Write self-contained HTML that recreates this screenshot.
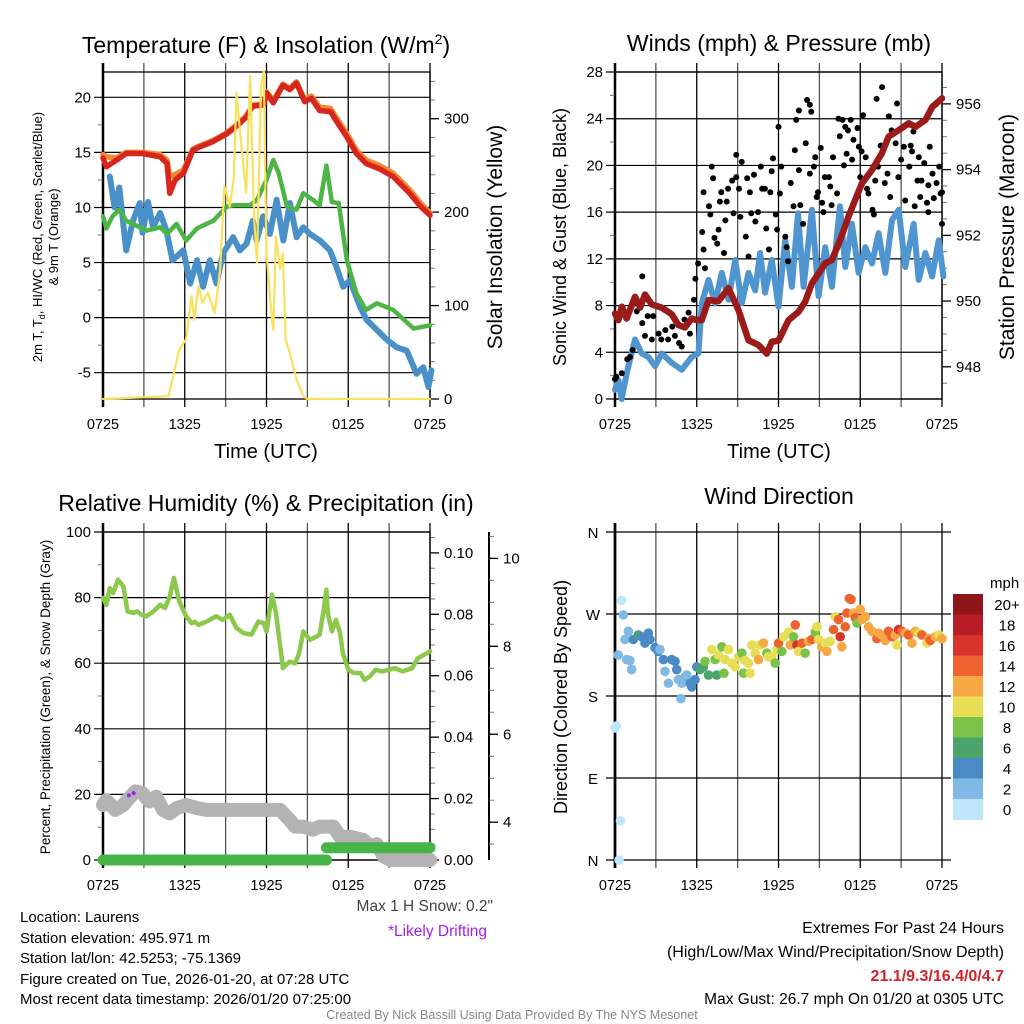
<!DOCTYPE html>
<html><head><meta charset="utf-8">
<style>
html,body{margin:0;padding:0;background:#fff;}
svg{display:block;font-family:"Liberation Sans",Arial,sans-serif;}
</style></head>
<body>
<svg id="svg" width="1024" height="1024" viewBox="0 0 1024 1024" xmlns="http://www.w3.org/2000/svg">
<text x="266" y="53" font-size="23" text-anchor="middle">Temperature (F) &amp; Insolation (W/m<tspan dy="-9" font-size="14">2</tspan><tspan dy="9">)</tspan></text>
<text x="779" y="51" font-size="23" text-anchor="middle">Winds (mph) &amp; Pressure (mb)</text>
<text x="266" y="511" font-size="23" text-anchor="middle">Relative Humidity (%) &amp; Precipitation (in)</text>
<text x="779" y="504" font-size="23" text-anchor="middle">Wind Direction</text>

<text transform="translate(42,237) rotate(-90)" font-size="13" text-anchor="middle">2m T, T<tspan font-size="9" dy="3">d</tspan><tspan dy="-3">, HI/WC (Red, Green, Scarlet/Blue)</tspan></text>
<text transform="translate(58,237) rotate(-90)" font-size="13" text-anchor="middle">&amp; 9m T (Orange)</text>
<text transform="translate(502,237) rotate(-90)" font-size="21" text-anchor="middle">Solar Insolation (Yellow)</text>
<text x="266" y="458" font-size="20" text-anchor="middle">Time (UTC)</text>
<text transform="translate(566,237) rotate(-90)" font-size="18" text-anchor="middle">Sonic Wind &amp; Gust (Blue, Black)</text>
<text transform="translate(1014,237) rotate(-90)" font-size="21" text-anchor="middle">Station Pressure (Maroon)</text>
<text x="779" y="458" font-size="20" text-anchor="middle">Time (UTC)</text>
<text transform="translate(50,697) rotate(-90)" font-size="13.5" text-anchor="middle">Percent, Precipitation (Green), &amp; Snow Depth (Gray)</text>
<text transform="translate(567,697) rotate(-90)" font-size="18" text-anchor="middle">Direction (Colored By Speed)</text>

<g font-size="15">
<text x="20" y="922">Location: Laurens</text>
<text x="20" y="943">Station elevation: 495.971 m</text>
<text x="20" y="963">Station lat/lon: 42.5253; -75.1369</text>
<text x="20" y="984">Figure created on Tue, 2026-01-20, at 07:28 UTC</text>
<text x="20" y="1004">Most recent data timestamp: 2026/01/20 07:25:00</text>
</g>
<text x="493" y="911" font-size="15.5" fill="#444" text-anchor="end">Max 1 H Snow: 0.2"</text>
<text x="487" y="936" font-size="15.5" fill="#a020f0" text-anchor="end">*Likely Drifting</text>
<g font-size="16" text-anchor="end">
<text x="1004" y="933">Extremes For Past 24 Hours</text>
<text x="1004" y="957">(High/Low/Max Wind/Precipitation/Snow Depth)</text>
<text x="1004" y="981" fill="#d2232a" font-weight="bold">21.1/9.3/16.4/0/4.7</text>
<text x="1004" y="1004" font-size="15.5">Max Gust: 26.7 mph On 01/20 at 0305 UTC</text>
</g>
<text x="512" y="1019" font-size="12.5" fill="#888" text-anchor="middle">Created By Nick Bassill Using Data Provided By The NYS Mesonet</text>
</svg>
<script>
// ---------- data ----------
const xTickLabels = ['0725','1325','1925','0125','0725'];
const tempH = [0,0.25,1,1.7,2.9,4.2,4.7,4.9,5.3,5.9,6.6,7.1,8.1,9.1,10,10.5,11,11.8,12,12.5,13.2,13.7,14.2,14.8,15.3,15.9,16.7,17.1,17.9,18.6,19.3,20.3,21.3,22.5,23.3,24];
const tempRed = [14.5,13.7,14.3,14.9,14.9,14.6,14,11.3,12.5,13.1,15.2,15.5,16,16.7,17.6,18.2,19.2,19.3,20.4,19.5,21.1,20.7,21.3,19.6,19.9,18.8,18.7,17.9,16.4,14.9,14.0,13.5,12.8,11.3,10.1,9.3];
const tempOrange = [14.8,14.6,14.5,15.0,15.0,14.8,14.3,12.8,13.0,13.4,15.3,15.6,16.1,16.8,17.7,18.3,19.3,19.4,20.5,19.7,21.2,20.8,21.4,19.8,20.1,19.1,19.0,18.2,16.7,15.2,14.3,13.8,13.1,11.6,10.4,9.5];
const dewH = [0,0.25,0.7,1.2,1.7,2.7,3.2,4.2,4.7,5.4,6.1,6.9,8.1,9.1,9.6,10.8,11.3,12,12.5,12.9,13.5,14.2,14.7,15.4,15.9,16.4,16.8,17.3,17.9,18.6,19.3,20.1,21.3,22.8,24];
const dewVals = [9.2,8.1,9.2,9.8,8.8,8.2,7.9,8.2,7.6,8.5,7,8.1,8.8,10.1,10.2,10.2,10.7,12.5,14.3,13.1,10.1,9.8,11.3,10.7,10.2,13.8,10.5,10.4,5.2,2.2,0.7,1.3,0.7,-1,-0.7];
const chillH = [0.5,0.85,1.2,1.7,2.2,2.7,2.9,3.3,3.67,4.2,4.65,5.1,5.9,6.4,6.9,7.35,7.84,8.33,8.8,9.55,10.04,10.53,11.0,11.27,11.76,12.25,12.74,13.23,13.72,14.21,14.7,15.18,15.92,16.65,17.14,17.63,18.12,18.86,19.35,20.08,20.82,21.55,22.29,23.02,23.51,23.88,24.1];
const chillVals = [12.8,10,11.8,6.1,8.8,10.4,7.7,10.5,8.2,9.5,7.9,5.2,6.1,3.1,5.2,2.8,5.2,3.1,5.8,7.3,6.1,6.7,8.8,7,9.2,7.6,10.7,7,10.4,7.3,8.2,7.6,7,6.1,4.6,2.8,3.4,1,-0.2,-1.1,-2,-2.7,-3,-5.1,-4.5,-6.3,-4.8];
const solarH = [0,4.8,5.1,5.6,6.1,6.5,6.7,7,7.3,7.7,8.2,8.6,8.9,9.3,9.6,9.8,10.2,10.5,10.8,11.1,11.3,11.6,11.8,12,12.4,12.5,12.7,13,13.2,13.4,13.7,14.2,14.7,15,24];
const solarVals = [0,3,21,53,64,110,85,121,103,114,92,139,228,206,235,328,264,221,346,192,146,335,351,156,85,74,174,139,156,64,49,21,3,0,0];

const presH = [0,0.25,0.5,0.85,1.47,1.84,2.2,2.69,3.43,4.16,4.65,5.14,5.63,6.0,6.37,6.86,7.59,8.33,9.06,9.8,10.53,11.14,11.51,12,12.74,13.47,13.96,14.45,14.94,15.43,15.92,16.53,17.14,17.63,18.12,18.86,19.59,20.08,20.82,21.55,22.04,22.78,23.27,24];
const presVals = [949.62,949.42,949.83,949.47,950.13,949.8,950.2,949.9,949.8,949.6,949.27,949.2,949.47,949.42,949.42,950.03,950.0,950.39,949.73,948.81,948.66,948.4,948.76,948.8,949.42,949.67,949.98,950.54,950.84,951.15,951.25,951.86,952.57,953.08,953.58,953.99,954.5,955,955.2,955.41,955.3,955.51,955.9,956.17];
const windH = [0,0.25,0.49,0.86,1.47,1.96,2.45,2.94,3.43,4.16,4.9,5.63,6.12,6.37,6.86,7.35,7.84,8.33,8.82,9.31,9.8,10.29,10.65,11.02,11.51,12,12.49,12.98,13.43,13.84,14.45,14.94,15.43,15.92,16.51,16.9,17.39,17.88,18.37,18.86,19.35,19.84,20.33,20.82,21.31,21.92,22.29,22.78,23.27,23.76,24.1];
const windVals = [0.8,1.6,0,2.2,5.1,3.9,3.6,2.8,3.9,3.1,2.5,3.6,3.9,8.2,10.2,8.2,10.8,8.5,11.9,8.2,10.8,9.3,12.5,9.1,11.9,7.9,13.6,9.6,15.9,9.6,16.2,8.8,13,9.6,16.5,11.3,15,10.8,13,11.6,14.2,10.8,15.3,16.2,11.3,15,10.2,12.5,10.5,13.6,10.5];
const gustH = [0,0.1,0.5,0.9,1.1,1.3,1.6,2.0,2.0,2.2,2.4,2.7,2.8,3.2,3.4,3.7,3.9,4.2,4.4,4.7,4.9,5.1,5.4,5.5,5.8,5.9,6.1,6.4,6.5,6.6,6.5,6.9,7.0,7.1,7.2,7.3,7.5,7.6,7.7,7.8,8.0,8.1,8.2,8.3,8.6,8.7,8.9,8.9,9.1,9.2,9.3,9.6,9.7,9.8,9.9,10.0,10.2,10.3,10.5,10.7,10.8,11,11.1,11.3,11.4,11.5,11.6,11.8,11.9,12,12.1,12.2,12.5,12.6,12.7,12.9,13.1,13.2,13.3,13.5,13.5,13.6,13.8,14,14.1,14.3,14.4,14.3,14.6,14.7,14.8,14.9,15.1,15.2,15.3,15.4,15.7,15.8,15.9,16,16.3,16.4,16.5,16.7,16.8,16.9,17.0,17.1,17.3,17.4,17.5,17.8,17.9,18,18.1,18.2,18.4,18.5,18.6,18.9,19,19.1,19.2,19.3,19.5,19.6,19.8,20,20.1,20.2,20.3,20.6,20.7,20.8,21,21.2,21.3,21.6,21.7,21.8,21.9,22,22.2,22.3,22.4,22.5,22.7,22.9,23,23.1,23.3,23.4,23.6,23.8,23.9,24,24,23];
const gustVals = [1.7,1.9,2.2,3.4,3.6,4.2,7.5,10.5,6.5,5.4,7.1,5.1,7.1,5.6,5.1,5.9,5.1,6.2,5.4,4.8,4.5,6.8,7.4,5.6,8.5,10.3,11.6,14.3,12.8,11.2,17.7,16.5,15.8,19.9,18.9,13.8,13.3,14.5,16.9,17.7,12.5,15.3,16.9,18,18.7,15.9,19,20.9,18,15.6,20.3,13.9,18.9,12.2,17.7,15.9,19.2,15.2,16,19.9,18,18,14.6,12.8,17.7,19.5,20.6,15.8,14.5,23.3,17.6,19.9,13.9,13,11.8,18.5,16.5,21.3,23.9,24.7,19.6,16.6,15,21.9,25.6,25.2,24.6,19.3,19.9,20.7,17.3,17.7,21.5,16.8,16.0,19,19,18.2,16.6,20.7,17.6,24,22.5,23.9,20,23.3,21,23,23.9,20.5,22.2,23.2,21.6,19,21.2,24.3,20.7,18,17.6,16.2,15.8,18.7,25.7,19.9,21.7,26.7,18.5,19.3,24.2,17.3,23,21.9,25.3,19,20.5,21.6,17,19.9,21.7,21.2,22.9,16.5,18.7,20.7,17.3,18.7,20.2,16.8,18.3,21.6,19.3,17.2,18.5,19.9,17.6,15,17.7,16];

const rhH = [0,0.25,0.5,0.75,1.1,1.5,1.8,2.2,2.5,2.8,3.2,3.7,4.2,4.55,4.9,5.2,5.6,6.1,6.5,6.75,7,7.6,8.3,8.8,9.3,9.8,10.3,10.9,11.4,11.8,12,12.4,12.7,13.1,13.2,13.7,14.1,14.4,14.7,15.2,15.7,15.9,16.2,16.4,16.5,16.8,17.1,17.4,17.6,18,18.4,18.9,19.2,19.6,20,20.5,21,21.4,22,22.7,23.1,24];
const rhVals = [79.9,77.8,82.9,81.4,85.5,83.4,75.8,75.3,75.8,74.8,74.3,75.8,77.8,76.8,80.4,86,78.8,74.3,72.2,72.6,71.7,72.7,74.3,73.2,74.8,70.7,69.2,68.7,72.7,72.2,69.7,80.9,75.3,62.1,58.5,60.5,60,63.1,69.7,67.1,68.2,68.7,76.3,82.4,75.3,69.7,73.2,69.2,63.1,58,57,57,54.9,56,58,57.5,58,58.5,57.5,58.5,61.5,63.6];
const snowH = [0,0.25,0.9,1.5,2.0,2.4,2.9,3.4,3.9,4.4,4.9,5.4,6.1,6.9,7.6,13,13.7,14.1,14.7,15.4,15.9,16.9,17.4,18.1,19.1,19.6,20.1,20.6,21.1,24];
const snowVals = [4.39,4.5,4.28,4.39,4.58,4.7,4.66,4.47,4.58,4.28,4.2,4.32,4.39,4.32,4.28,4.28,4.05,3.9,3.9,3.83,3.9,3.9,3.67,3.67,3.6,3.45,3.5,3.22,3.14,3.14];
const driftH = [1.9,2.25];
const driftVals = [4.61,4.66];
const precipSegStart = [0,16.4];
const precipSegEnd = [16.4,24];
const precipVals = [0,0.004];

const dirH = [0.49,0.61,0.24,0,0.1,0.4,0.3,0.73,0.98,0.86,1.1,1.22,1.34,1.71,1.96,2.2,2.45,2.57,2.94,3.18,3.3,3.55,3.67,3.92,4.16,4.41,4.53,4.65,4.9,4.84,5.14,5.27,5.51,5.63,5.88,6.0,6.24,6.49,6.61,6.86,7.1,7.35,7.47,7.59,7.84,8.0,8.08,8.33,8.57,8.82,9.06,9.31,9.43,9.55,9.8,9.92,10.04,10.29,10.53,10.65,10.9,11.14,11.27,11.51,11.76,11.88,12,12.25,12.37,12.74,12.86,13.1,13.23,13.35,13.47,13.72,13.96,14.21,14.45,14.7,14.82,14.94,15.18,15.43,15.55,15.8,16.04,16.16,16.41,16.53,16.65,16.9,17.02,17.2,17.33,17.51,17.63,17.76,18.0,18.12,18.37,18.61,18.86,19.22,19.35,19.59,19.84,20.08,20.33,20.57,20.69,20.82,21.06,21.31,21.55,21.8,22.04,22.29,22.53,22.9,23.02,23.14,23.51,23.76,24];
const dirDeg = [285,269,225,145,147,43,0,242,251,220,219,209,242,247,245,238,249,242,233,229,231,220,207,194,220,218,209,198,194,177,201,203,194,190,198,212,209,212,218,203,231,220,203,225,234,205,220,231,216,212,223,227,205,219,216,205,236,227,220,236,238,227,223,223,216,231,238,229,245,250,236,245,258,236,229,238,227,240,242,250,256,242,234,238,229,240,253,267,264,245,234,256,271,287,286,271,266,260,275,264,267,256,251,243,249,247,241,251,245,247,236,253,251,249,247,238,251,249,247,238,243,241,245,247,243];
const dirSpd = [1,3,3,1,1,1,1,3,3,3,3,3,5,7,5,5,5,5,5,5,3,5,3,3,5,5,5,3,3,3,3,3,5,5,5,5,7,7,9,7,11,9,7,11,9,9,11,11,11,11,11,9,9,11,11,11,11,11,13,11,13,9,11,11,9,11,15,9,11,11,13,9,15,17,11,15,9,13,15,9,11,11,13,11,13,11,15,11,15,17,13,15,15,15,15,13,15,9,13,13,13,13,13,15,13,13,13,15,15,13,11,17,15,13,15,13,13,11,15,11,13,15,13,11,13];
const cbLabels = ['20+','18','16','14','12','10','8','6','4','2','0'];
const cbColors = ['#8e151a','#b71d25','#d8332a','#ee6330','#f5a843','#e6df56','#7bc24a','#4aa46c','#4a8bc5','#80b9e3','#bfe5f8'];

// ---------- helpers ----------
const NS='http://www.w3.org/2000/svg';
const svg=document.getElementById('svg');
function mk(tag,attrs,parent){const e=document.createElementNS(NS,tag);for(const k in attrs)e.setAttribute(k,attrs[k]);(parent||svg).appendChild(e);return e;}
function lin(d0,d1,p0,p1){return v=>p0+(v-d0)*(p1-p0)/(d1-d0);}
function pathD(xs,ys,fx,fy){return xs.map((x,i)=>(i?'L':'M')+fx(x).toFixed(1)+','+fy(ys[i]).toFixed(1)).join('');}

function frame(L,T,R,B,name){
  const g=mk('g',{});
  
  
  const fx=lin(0,24,L,R);
  for(let h=0;h<=24;h+=3){
    const x=fx(h);
    const ln=mk('line',{x1:x,y1:T-9,x2:x,y2:B+8,stroke:(h%6==0?'#000':'#555'),'stroke-width':(h==0?2.5:1.3)},g);
    
    
  }
  xTickLabels.forEach((t,i)=>{
    const tx=mk('text',{x:fx(i*6),y:B+30,'font-size':14.5,'text-anchor':'middle'},g);
    tx.textContent=t;
    
    
  });
  return {fx,g};
}
function yAxis(g,fy,L,R,min,max,major,minor,fmt,name){
  for(let v=Math.ceil(min/minor)*minor;v<=max+1e-9;v+=minor){
    const y=fy(v);const isMaj=Math.abs(v/major-Math.round(v/major))<1e-6;
    if(isMaj){
      const ln=mk('line',{x1:L-9,y1:y,x2:R,y2:y,stroke:'#000','stroke-width':1.2},g);
      
      
      const tx=mk('text',{x:L-12,y:y+5,'font-size':15,'text-anchor':'end'},g);
      tx.textContent=fmt(v);
      
      
    } else {
      const ln=mk('line',{x1:L-5,y1:y,x2:L,y2:y,stroke:'#777','stroke-width':1},g);
      
      
    }
  }
}
function rAxis(g,fy,X,min,max,major,minor,fmt,name,withLine){
  if(withLine){const al=mk('line',{x1:X,y1:fy(max),x2:X,y2:fy(min),stroke:'#000','stroke-width':2},g);
    
    }
  for(let v=Math.ceil(min/minor-1e-9)*minor;v<=max+1e-9;v+=minor){
    const y=fy(v);const isMaj=Math.abs(v/major-Math.round(v/major))<1e-6;
    const ln=mk('line',{x1:X,y1:y,x2:X+(isMaj?9:5),y2:y,stroke:isMaj?'#000':'#777','stroke-width':isMaj?1.3:1},g);
    
    
    if(isMaj){const tx=mk('text',{x:X+14,y:y+5,'font-size':15},g);tx.textContent=fmt(v);
      
      }
  }
}
function border(g,L,T,R,B){
  const r=mk('rect',{x:L,y:T,width:R-L,height:B-T,fill:'none',stroke:'#000','stroke-width':1.3},g);
  
  
}
function line(xs,ys,fx,fy,color,w,name){
  const p=mk('path',{d:pathD(xs,ys,fx,fy),fill:'none',stroke:color,'stroke-width':w,'stroke-linejoin':'round','stroke-linecap':'round'});
  
  
  return p;
}

// ---------- Panel 1: temperature ----------
(function(){
  const L=103,T=72,R=430,B=399;
  const {fx,g}=frame(L,T,R,B,'temp');
  const fy=lin(-7.39,22.3,B,T), fs=lin(0,350,B,T);
  yAxis(g,fy,L,R,-7.39,22.3,5,2.5,v=>String(v),'temp');
  rAxis(g,fs,R,0,350,100,20,v=>String(v),'solar',false);
  border(g,L,T,R,B);
  line(tempH,tempOrange,fx,fy,'#f08a2c',5.5,'temp-9m-line');
  line(chillH,chillVals,fx,fy,'#4a90c8',6,'wind-chill-line');
  line(dewH,dewVals,fx,fy,'#4db446',4.5,'dewpoint-line');
  line(tempH,tempRed,fx,fy,'#d7261e',5.5,'temp-2m-line');
  line(solarH,solarVals,fx,fs,'#fbe15a',2.2,'solar-line');
})();

// ---------- Panel 2: wind & pressure ----------
(function(){
  const L=615,T=72,R=942,B=399;
  const {fx,g}=frame(L,T,R,B,'wind');
  const fy=lin(0,28,B,T), fp=lin(947.02,956.97,B,T);
  yAxis(g,fy,L,R,0,28,4,2,v=>String(v),'wind');
  rAxis(g,fp,R,947.02,956.97,2,0.5,v=>String(v),'pressure',false);
  border(g,L,T,R,B);
  line(windH,windVals,fx,fy,'#4f96d0',6,'wind-speed-line');
  gustH.forEach((h,i)=>{
    const c=mk('circle',{cx:fx(h),cy:fy(gustVals[i]),r:3,fill:'#000'});
    
    
  });
  line(presH,presVals,fx,fp,'#9b1b1b',6.5,'pressure-line');
})();

// ---------- Panel 3: RH & precip ----------
(function(){
  const L=103,T=532,R=430,B=860;
  const {fx,g}=frame(L,T,R,B,'rh');
  const fy=lin(0,100,B,T), fpr=lin(0,0.1068,B,T), fsn=lin(3.14,10.6,B,T);
  yAxis(g,fy,L,R,0,100,20,10,v=>String(v),'rh');
  rAxis(g,fpr,R,0,0.1068,0.02,0.005,v=>v.toFixed(2),'precip',false);
  rAxis(g,fsn,489,3.14,10.6,2,0.5,v=>String(v),'snow',true);
  border(g,L,T,R,B);
  line(rhH,rhVals,fx,fy,'#8cc84b',4.5,'rh-line');
  line(snowH,snowVals,fx,fsn,'#b3b3b3',14,'snow-depth-line');
  precipSegStart.forEach((s,i)=>{
    const ln=mk('line',{x1:fx(s),y1:fpr(precipVals[i]),x2:fx(precipSegEnd[i]),y2:fpr(precipVals[i]),stroke:'#46b446','stroke-width':11,'stroke-linecap':'round'});
    
    
  });
  driftH.forEach((h,i)=>{
    const c=mk('circle',{cx:fx(h),cy:fsn(driftVals[i]),r:2,fill:'#a020f0'});
    
    
  });
})();

// ---------- Panel 4: wind direction ----------
(function(){
  const L=615,T=532,R=942,B=860;
  const {fx,g}=frame(L,T,R,B,'dir');
  const fy=lin(0,360,B,T);
  const dirLabels=['N','E','S','W','N'];
  [0,90,180,270,360].forEach((v,i)=>{
    const y=fy(v);
    const ln=mk('line',{x1:L-9,y1:y,x2:R+9,y2:y,stroke:'#000','stroke-width':1.2},g);
    
    
    const tx=mk('text',{x:L-22,y:y+6,'font-size':15,'text-anchor':'middle'},g);
    tx.textContent=dirLabels[i];
    
    
  });
  const al=mk('line',{x1:L,y1:T-9,x2:L,y2:B+8,stroke:'#000','stroke-width':2.5},g);
  
  
  function col(s){let idx=Math.min(10,Math.floor(s/2));return cbColors[10-idx];}
  dirH.forEach((h,i)=>{
    const c=mk('circle',{cx:fx(h),cy:fy(dirDeg[i]),r:4.8,fill:col(dirSpd[i])});
    
    
  });
  const cb=mk('g',{});
  
  
  const cbT=594,cbH=20.5;
  const unit=mk('text',{x:990,y:588,'font-size':15},cb);
  unit.textContent='mph';
  
  
  cbLabels.forEach((lab,i)=>{
    const r=mk('rect',{x:953,y:cbT+i*cbH,width:30,height:cbH+0.5,fill:cbColors[i]},cb);
    
    
    const t=mk('text',{x:1007,y:cbT+i*cbH+cbH/2+5.5,'font-size':15,'text-anchor':'middle'},cb);
    t.textContent=lab;
    
    
  });
})();
</script>
</body></html>
